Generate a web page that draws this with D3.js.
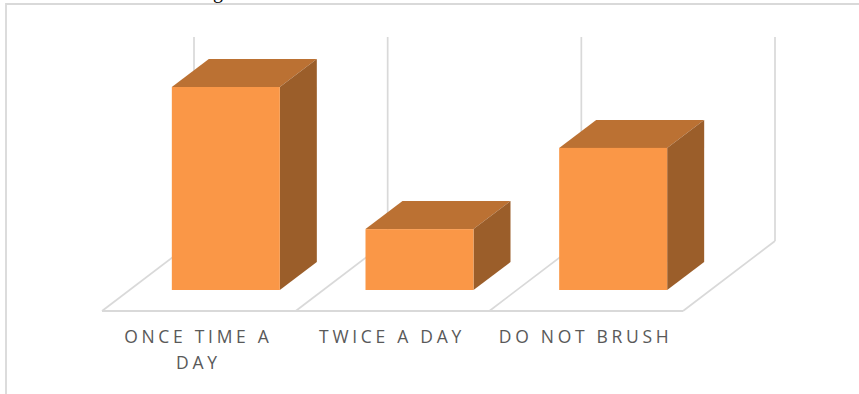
<!DOCTYPE html>
<html>
<head>
<meta charset="utf-8">
<script src="https://cdn.jsdelivr.net/npm/d3@7"></script>
<style>
  html, body { margin: 0; padding: 0; background: #fff; }
  svg { display: block; }
  text { font-family: "Open Sans", sans-serif; }
</style>
</head>
<body>
<svg id="chart" width="859" height="394"></svg>
<script>
const categories = ["ONCE TIME A DAY", "TWICE A DAY", "DO NOT BRUSH"];
const labelLines = [["ONCE TIME A", "DAY"], ["TWICE A DAY"], ["DO NOT BRUSH"]];
const values = [50, 15, 35];

const svg = d3.select("#chart");

// Floor corners of the 3D plot box
const floorLeft = 102, floorRight = 683, floorFront = 311;
const wallDx = 92, wallDy = -70, wallTop = 37;
const barDx = 37, barDy = -28, barBase = 290;

const x = d3.scaleBand().domain(categories).range([floorLeft, floorRight]);
const y = d3.scaleLinear().domain([0, 50]).range([barBase, 87]);
const barWidth = 108;

const gridColor = "#d9d9d9";

// Chart frame, open on the right and bottom
svg.append("path")
  .attr("d", "M6,394V4H859")
  .attr("fill", "none").attr("stroke", gridColor).attr("stroke-width", 1.8);

// Clipped title fragment above the frame
svg.append("text").attr("x", 218).attr("y", -2.5)
  .style("font-family", "'Liberation Serif', serif")
  .attr("font-size", 20).attr("fill", "#000").attr("text-anchor", "middle").text("g");

const ticks = x.domain().map(d => x(d)).concat(floorRight);
const grid = svg.append("g").attr("fill", "none").attr("stroke", gridColor).attr("stroke-width", 1.7);

// Back wall verticals and floor diagonals at each category boundary
ticks.forEach(t => {
  grid.append("line").attr("x1", t + wallDx).attr("x2", t + wallDx)
    .attr("y1", wallTop).attr("y2", floorFront + wallDy);
  grid.append("line").attr("x1", t).attr("x2", t + wallDx)
    .attr("y1", floorFront).attr("y2", floorFront + wallDy);
});
grid.append("line").attr("x1", floorLeft).attr("x2", floorRight)
  .attr("y1", floorFront).attr("y2", floorFront).attr("stroke-width", 1.9);

// Extruded columns: top, side, then front face
const bars = svg.append("g").selectAll("g").data(categories).join("g");
const left = (d) => x(d) + (x.bandwidth() - barWidth) / 2 + 27;

bars.append("path").attr("fill", "#bb7133").attr("d", (d, i) => {
  const l = left(d), r = l + barWidth, t = y(values[i]);
  return `M${l},${t}L${l + barDx},${t + barDy}L${r + barDx},${t + barDy}L${r},${t}Z`;
});
bars.append("path").attr("fill", "#9b5e2a").attr("d", (d, i) => {
  const r = left(d) + barWidth, t = y(values[i]);
  return `M${r},${t}L${r + barDx},${t + barDy}L${r + barDx},${barBase + barDy}L${r},${barBase}Z`;
});
bars.append("rect").attr("fill", "#fa9747")
  .attr("x", d => left(d)).attr("width", barWidth)
  .attr("y", (d, i) => y(values[i]))
  .attr("height", (d, i) => barBase - y(values[i]));

// Category labels, wrapped onto lines
const labels = svg.append("g").selectAll("text").data(categories).join("text")
  .attr("text-anchor", "middle").attr("fill", "#595959")
  .attr("font-size", 17.5).style("letter-spacing", "3.7px");
labels.each(function (d, i) {
  const cx = x(d) + x.bandwidth() / 2 - 0.5;
  d3.select(this).selectAll("tspan").data(labelLines[i]).join("tspan")
    .attr("x", cx).attr("y", (s, k) => 343 + k * 26).text(s => s);
});
</script>
</body>
</html>
